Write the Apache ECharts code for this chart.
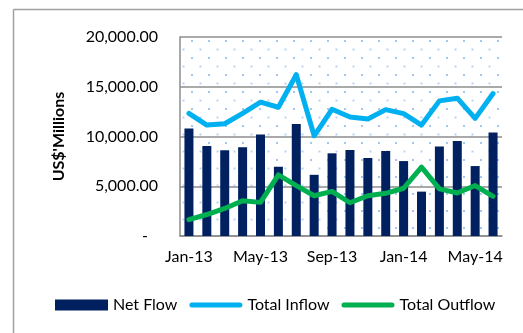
<!DOCTYPE html>
<html>
<head>
<meta charset="utf-8">
<script src="https://cdn.jsdelivr.net/npm/echarts@6/dist/echarts.min.js"></script>
<style>
  html, body { margin: 0; padding: 0; background: #fff; }
  #chart { width: 523px; height: 333px; }
</style>
</head>
<body>
<div id="chart"></div>
<script>
// Monthly flows, US$ millions
const months = ['Jan-13','Feb-13','Mar-13','Apr-13','May-13','Jun-13','Jul-13','Aug-13','Sep-13',
                'Oct-13','Nov-13','Dec-13','Jan-14','Feb-14','Mar-14','Apr-14','May-14','Jun-14'];
const netFlow = [10800, 9050, 8620, 8920, 10200, 6960, 11250, 6150, 8310,
                 8650, 7840, 8550, 7530, 4460, 8990, 9560, 7030, 10400];
const totalInflow = [12330, 11150, 11280, 12330, 13450, 12940, 16210, 10070, 12740,
                     11960, 11760, 12700, 12300, 11150, 13580, 13850, 11820, 14320];
const totalOutflow = [1650, 2160, 2770, 3550, 3380, 6150, 5070, 4050, 4490,
                      3340, 4050, 4290, 4800, 6930, 4730, 4320, 5070, 3990];
const yTicks = [0, 5000, 10000, 15000, 20000];

const FONT = 'Lato';
const GRID_COLOR = '#8c8c8c';
// Legend key for the line series: a thin capsule
const LINE_KEY = 'path://M2.5,0 H50.5 A2.5,2.5 0 0 1 50.5,5 H2.5 A2.5,2.5 0 0 1 2.5,0 Z';

// Dotted fill tile for the plot area (staggered light-blue dots)
const tile = document.createElement('canvas');
tile.width = 17; tile.height = 17;
const tctx = tile.getContext('2d');
tctx.fillStyle = '#a6c8ee';
tctx.fillRect(4, 6, 2, 2);
tctx.fillStyle = '#b8d3f2';
tctx.fillRect(12.5, 14.5, 2, 2);

function fmtNum(v) {
  if (v === 0) return '{dash|-}';
  return v.toLocaleString('en-US', { minimumFractionDigits: 2, maximumFractionDigits: 2 });
}

const chart = echarts.init(document.getElementById('chart'), null, { renderer: 'canvas' });
chart.setOption({
  animation: false,
  backgroundColor: '#fff',
  textStyle: { fontFamily: FONT, color: '#000' },
  grid: {
    left: 180, right: 21, top: 37, bottom: 97,
    show: true,
    backgroundColor: { image: tile, repeat: 'repeat' },
    borderWidth: 0
  },
  legend: {
    left: 55, top: 297, padding: 0,
    itemWidth: 53, itemHeight: 11, itemGap: 12,
    textStyle: { fontFamily: FONT, fontSize: 16, color: '#000' },
    data: [
      { name: 'Net Flow', icon: 'rect' },
      { name: 'Total Inflow', icon: LINE_KEY },
      { name: 'Total Outflow', icon: LINE_KEY }
    ]
  },
  xAxis: {
    type: 'category',
    data: months,
    boundaryGap: true,
    axisLine: { show: true, lineStyle: { color: GRID_COLOR, width: 1.5 } },
    axisTick: { show: false },
    axisLabel: { interval: 3, margin: 13, fontFamily: FONT, fontSize: 16, color: '#000' }
  },
  yAxis: {
    type: 'value',
    min: yTicks[0], max: yTicks[yTicks.length - 1], interval: 5000,
    name: "US$'Millions",
    nameLocation: 'middle',
    nameGap: 113,
    nameRotate: 90,
    nameTextStyle: { fontFamily: FONT, fontSize: 16, fontWeight: 'bold', color: '#000' },
    axisLine: { show: true, lineStyle: { color: GRID_COLOR, width: 1.5 } },
    axisTick: { show: false },
    splitLine: { show: true, lineStyle: { color: GRID_COLOR, width: 1.5 } },
    axisLabel: {
      margin: 22, fontFamily: FONT, fontSize: 16, color: '#000',
      formatter: fmtNum,
      rich: { dash: { fontFamily: FONT, fontSize: 16, color: '#000', padding: [0, 10, 0, 0] } }
    }
  },
  graphic: [
    { type: 'line', shape: { x1: 13.5, y1: 9.5, x2: 523, y2: 9.5 },
      style: { stroke: '#a0a0a0', lineWidth: 1.5 }, silent: true },
    { type: 'line', shape: { x1: 13.5, y1: 9.5, x2: 13.5, y2: 333 },
      style: { stroke: '#a0a0a0', lineWidth: 1.5 }, silent: true }
  ],
  series: [
    {
      name: 'Net Flow', type: 'bar', data: netFlow,
      barWidth: 9,
      itemStyle: { color: '#002060' }
    },
    {
      name: 'Total Inflow', type: 'line', data: totalInflow,
      symbol: 'none',
      lineStyle: { color: '#00b0f0', width: 5, cap: 'round', join: 'round' },
      itemStyle: { color: '#00b0f0' }
    },
    {
      name: 'Total Outflow', type: 'line', data: totalOutflow,
      symbol: 'none',
      lineStyle: { color: '#00b050', width: 5, cap: 'round', join: 'round' },
      itemStyle: { color: '#00b050' }
    }
  ]
});
</script>
</body>
</html>
